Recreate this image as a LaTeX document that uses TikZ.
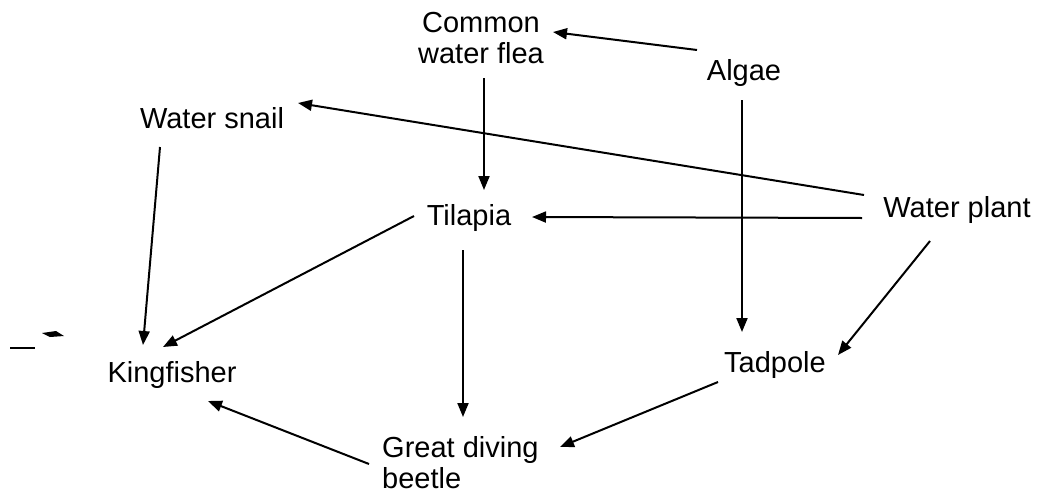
\documentclass[tikz,border=0pt]{standalone}
\usepackage{fontspec}
\setmainfont{Liberation Sans}
\usetikzlibrary{arrows.meta,calc}
\begin{document}
\begin{tikzpicture}[x=1pt,y=-1pt,
  lbl/.style={inner sep=0pt,anchor=base,font=\fontsize{29}{31}\selectfont},
  link/.style={line width=2pt,-{Triangle[length=14pt,width=11pt]}}]
\useasboundingbox (0,0) rectangle (1039,493);
\node[lbl,align=center] (flea) at (481,63) {Common\\water flea};
\node[lbl] (algae) at (744,80) {Algae};
\node[lbl] (snail) at (212,128) {Water snail};
\node[lbl] (tilapia) at (469,225) {Tilapia};
\node[lbl] (plant) at (957,217) {Water plant};
\node[lbl] (king) at (172,382) {Kingfisher};
\node[lbl] (tad) at (775,372) {Tadpole};
\node[lbl,anchor=base west,align=left] (beetle) at (382,488) {Great diving\\beetle};
\draw[link] ($(algae.base)+(-47,-30)$) -- ($(flea.base)+(72,-31)$);
\draw[link] ($(plant.base)+(-93,-22)$) -- ($(snail.base)+(86,-25)$);
\draw[link] ($(flea.base)+(3,15)$) -- ($(tilapia.base)+(15,-35)$);
\draw[link] ($(plant.base)+(-95,1)$) -- ($(tilapia.base)+(63,-8)$);
\draw[link] ($(algae.base)+(-2,20)$) -- ($(tad.base)+(-33,-40)$);
\draw[link] ($(plant.base)+(-27,24)$) -- ($(tad.base)+(63,-17)$);
\draw[link] ($(snail.base)+(-52,19)$) -- ($(king.base)+(-29,-37)$);
\draw[link] ($(tilapia.base)+(-55,-9)$) -- ($(king.base)+(-9,-35)$);
\draw[link] ($(tilapia.base)+(-6,25)$) -- ($(beetle.base west)+(81,-71)$);
\draw[link] ($(tad.base)+(-57,10)$) -- ($(beetle.base west)+(178,-41)$);
\draw[link] ($(beetle.base west)+(-13,-24)$) -- ($(king.base)+(36,19)$);
% stray marks of the scan
\draw[line width=1.5pt] (10,348) -- (35,348);
\fill (42,333) -- (56,331) -- (64,336) -- (50,337) -- cycle;
\end{tikzpicture}
\end{document}
